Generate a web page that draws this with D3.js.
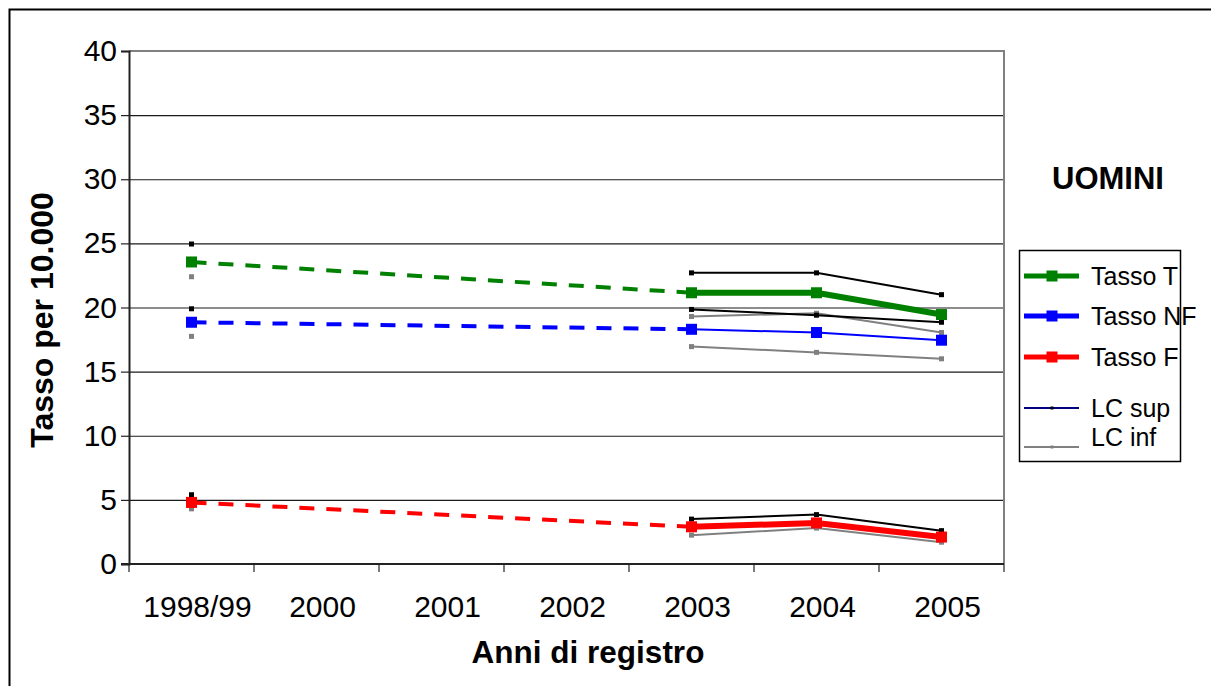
<!DOCTYPE html>
<html>
<head>
<meta charset="utf-8">
<script src="https://cdn.jsdelivr.net/npm/d3@7"></script>
<style>
  html, body { margin: 0; padding: 0; background: #fff; }
  svg { display: block; font-family: "Liberation Sans", Arial, sans-serif; }
</style>
</head>
<body>
<svg id="chart" width="1211" height="686"></svg>
<script>
const categories = ["1998/99", "2000", "2001", "2002", "2003", "2004", "2005"];
const yTicks = [0, 5, 10, 15, 20, 25, 30, 35, 40];

const tassoT   = [23.55, null, null, null, 21.15, 21.15, 19.45];
const lcSupT   = [24.95, null, null, null, 22.7, 22.7, 21.0];
const lcInfT   = [22.4, null, null, null, 19.3, 19.55, 18.05];

const tassoNF  = [18.85, null, null, null, 18.3, 18.05, 17.45];
const lcSupNF  = [19.9, null, null, null, 19.85, 19.4, 18.85];
const lcInfNF  = [17.75, null, null, null, 16.95, 16.5, 16.0];

const tassoF   = [4.8, null, null, null, 2.9, 3.2, 2.1];
const lcSupF   = [5.4, null, null, null, 3.5, 3.85, 2.6];
const lcInfF   = [4.3, null, null, null, 2.25, 2.8, 1.7];

const legendLabels = ["Tasso T", "Tasso NF", "Tasso F", "LC sup", "LC inf"];

const svg = d3.select("#chart");
const plot = { left: 129, right: 1004, top: 51, bottom: 564 };

// outer frame
svg.append("rect").attr("x", 9.5).attr("y", 9.5).attr("width", 1300).attr("height", 800)
  .attr("fill", "none").attr("stroke", "#000").attr("stroke-width", 2);

const x = d3.scaleBand().domain(categories).range([plot.left, plot.right]).padding(0);
const y = d3.scaleLinear().domain([0, 40]).range([plot.bottom, plot.top]);
const cx = c => x(c) + x.bandwidth() / 2;

// gridlines
svg.append("g").selectAll("line").data(yTicks.filter(t => t > 0 && t < 40)).join("line")
  .attr("x1", plot.left).attr("x2", plot.right)
  .attr("y1", d => y(d) + 0.5).attr("y2", d => y(d) + 0.5)
  .attr("stroke", "#1a1a1a").attr("stroke-width", 1.2);

// plot top & right border (gray)
svg.append("path")
  .attr("d", `M${plot.left},${y(40)}H${plot.right}V${plot.bottom}`)
  .attr("fill", "none").attr("stroke", "#808080").attr("stroke-width", 2);

// y axis
const yAxis = d3.axisLeft(y).tickValues(yTicks).tickSize(8).tickPadding(4);
const gy = svg.append("g").attr("transform", `translate(${plot.left},0)`).call(yAxis);
gy.select(".domain").attr("stroke", "#222").attr("stroke-width", 2);
gy.selectAll(".tick line").attr("stroke", "#222").attr("stroke-width", 1.2);
gy.selectAll(".tick text").attr("font-size", 30).attr("fill", "#000")
  .attr("font-family", "Liberation Sans, Arial, sans-serif");

// x axis: baseline, ticks at band boundaries, labels at centers
svg.append("line").attr("x1", plot.left - 8).attr("x2", plot.right)
  .attr("y1", plot.bottom).attr("y2", plot.bottom)
  .attr("stroke", "#222").attr("stroke-width", 2);
const edges = categories.map(c => x(c)).concat([plot.right]);
svg.append("g").selectAll("line").data(edges).join("line")
  .attr("x1", d => d).attr("x2", d => d)
  .attr("y1", plot.bottom).attr("y2", plot.bottom + 8)
  .attr("stroke", "#222").attr("stroke-width", 1.2);
const xAxis = d3.axisBottom(x).tickSize(0).tickPadding(0);
const gx = svg.append("g").attr("transform", `translate(6,${plot.bottom})`).call(xAxis);
gx.select(".domain").remove();
gx.selectAll(".tick text").attr("font-size", 30).attr("fill", "#000")
  .attr("font-family", "Liberation Sans, Arial, sans-serif").attr("dy", null).attr("y", 53);

// axis titles
svg.append("text").attr("x", 588).attr("y", 663).attr("text-anchor", "middle")
  .attr("font-size", 31.5).attr("font-weight", "bold").text("Anni di registro");
svg.append("text").attr("transform", "translate(53,320) rotate(-90)").attr("text-anchor", "middle")
  .attr("font-size", 32).attr("font-weight", "bold").text("Tasso per 10.000");

// helper builders
const idx = categories.map((c, i) => i);
const pts = arr => idx.filter(i => arr[i] != null).map(i => [cx(categories[i]), y(arr[i])]);
const line = d3.line();

function ciLine(arr, color) {
  const p = pts(arr).slice(1);
  svg.append("path").attr("d", line(p)).attr("fill", "none").attr("stroke", color).attr("stroke-width", 2);
  svg.append("g").selectAll("rect").data(pts(arr)).join("rect")
    .attr("x", d => d[0] - 2.5).attr("y", d => d[1] - 2.5).attr("width", 5).attr("height", 5).attr("fill", color);
}

function mainSeries(arr, color, width) {
  const p = pts(arr);
  svg.append("path").attr("d", line(p.slice(0, 2))).attr("fill", "none").attr("stroke", color)
    .attr("stroke-width", 4).attr("stroke-dasharray", "15,12");
  svg.append("path").attr("d", line(p.slice(1))).attr("fill", "none").attr("stroke", color)
    .attr("stroke-width", width).attr("stroke-linejoin", "miter");
  svg.append("g").selectAll("rect").data(p).join("rect")
    .attr("x", d => d[0] - 5.5).attr("y", d => d[1] - 5.5).attr("width", 11).attr("height", 11).attr("fill", color);
}

// CI lines
ciLine(lcInfT, "#808080");
ciLine(lcSupT, "#000");
ciLine(lcInfNF, "#808080");
ciLine(lcSupNF, "#000");
ciLine(lcInfF, "#808080");
ciLine(lcSupF, "#000");

// main lines
mainSeries(tassoNF, "#0000ff", 2);
mainSeries(tassoT, "#008000", 6);
mainSeries(tassoF, "#ff0000", 6);

// UOMINI
svg.append("text").attr("x", 1108).attr("y", 189).attr("text-anchor", "middle")
  .attr("font-size", 31).attr("font-weight", "bold").text("UOMINI");

// legend
const lg = svg.append("g");
lg.append("rect").attr("x", 1019.5).attr("y", 250.5).attr("width", 161).attr("height", 211)
  .attr("fill", "#fff").attr("stroke", "#000").attr("stroke-width", 1.5);
const legendStyle = [
  { color: "#008000", w: 5, m: 11, y: 276 },
  { color: "#0000ff", w: 5, m: 11, y: 316 },
  { color: "#ff0000", w: 5, m: 11, y: 357 },
  { color: "#000080", w: 2, m: 3, y: 408, mc: "#000" },
  { color: "#808080", w: 2, m: 3, y: 447, ty: 437 }
];
legendLabels.forEach((lab, i) => {
  const s = legendStyle[i];
  lg.append("line").attr("x1", 1024).attr("x2", 1079).attr("y1", s.y).attr("y2", s.y)
    .attr("stroke", s.color).attr("stroke-width", s.w);
  lg.append("rect").attr("x", 1052 - s.m / 2).attr("y", s.y - s.m / 2).attr("width", s.m).attr("height", s.m)
    .attr("fill", s.mc || s.color);
  lg.append("text").attr("x", 1091).attr("y", (s.ty || s.y) + 9).attr("font-size", 25).text(lab);
});
</script>
</body>
</html>
